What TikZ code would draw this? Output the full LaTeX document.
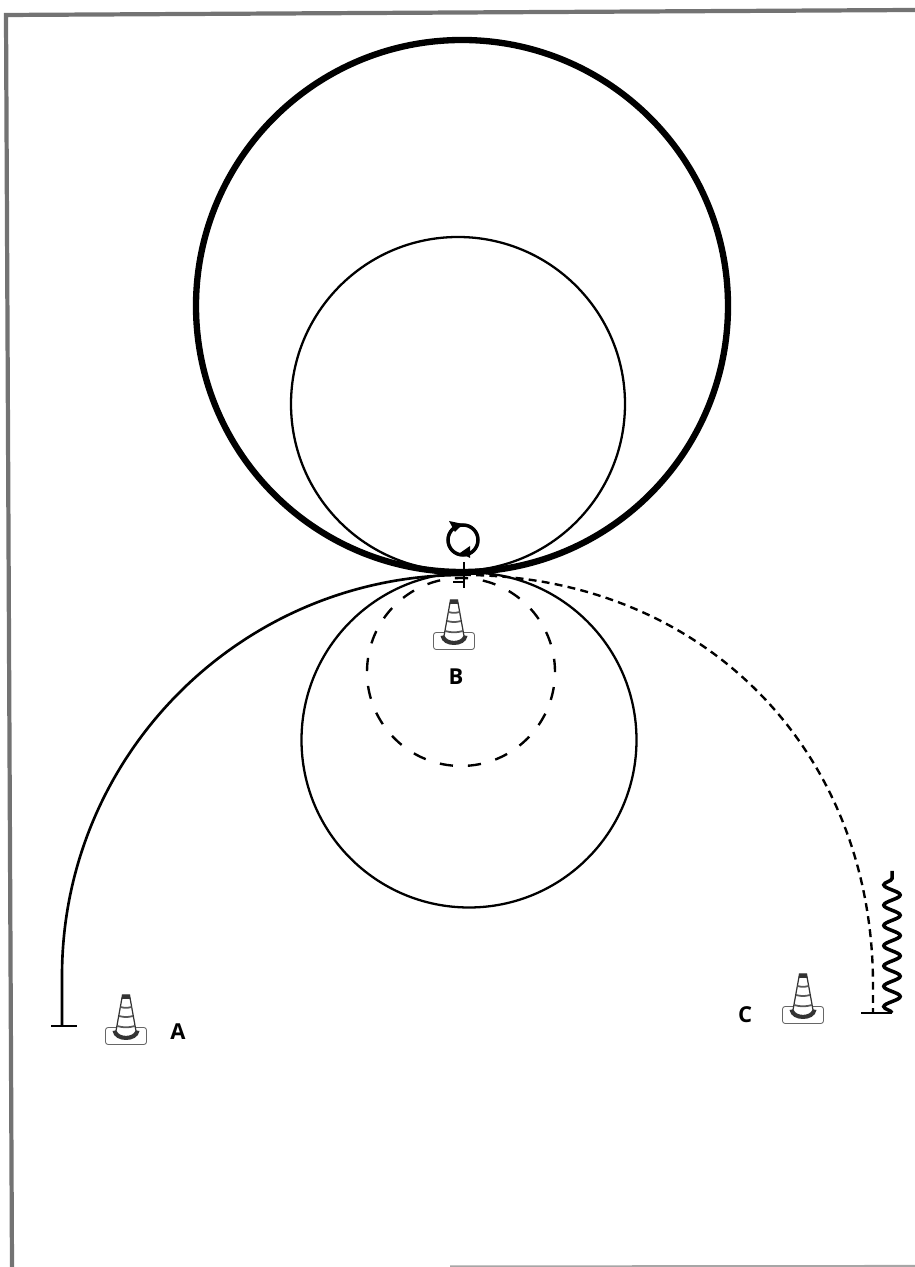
\documentclass[tikz,border=0pt]{standalone}
\usepackage{fontspec}
\setmainfont{Open Sans}
\usetikzlibrary{arrows.meta,decorations.pathmorphing}

\begin{document}
\begin{tikzpicture}[
  >=Latex,
  bigloop/.style={line width=3.6pt},
  loop/.style={line width=1.3pt},
  dashloop/.style={line width=1.35pt, dash pattern=on 7.5pt off 8.5pt},
  route/.style={line width=1.5pt},
  dashroute/.style={line width=1.35pt, dash pattern=on 4.5pt off 3pt},
  letter/.style={font=\bfseries\fontsize{12.5}{13}\selectfont, inner sep=0pt},
  sheet/.style={line width=2.4pt, black!55},
  cone/.pic={
    \draw[line width=0.5pt, black!60, rounded corners=1.5pt] (-0.41,-0.17) rectangle (0.41,0.17);
    \fill[black!80] (-0.27,0.1) to[out=-80,in=180] (0,-0.08) to[out=0,in=-100] (0.27,0.1) -- (0.16,0.12) -- (-0.16,0.12) -- cycle;
    \draw[line width=0.7pt, black!80, fill=white] (-0.2,0.1) -- (-0.07,0.82) -- (0.07,0.82) -- (0.2,0.1) to[out=-110,in=-70] cycle;
    \fill[black!80] (-0.07,0.82) -- (0.07,0.82) -- (0.085,0.74) -- (-0.085,0.74) -- cycle;
    \draw[line width=1pt, black!65] (-0.11,0.58) to[bend right=15] (0.11,0.58);
    \draw[line width=1pt, black!65] (-0.14,0.4) to[bend right=15] (0.14,0.4);
    \draw[line width=1pt, black!65] (-0.18,0.2) to[bend right=15] (0.18,0.2);
  }
]
\useasboundingbox (0,0) rectangle (18.3,25.34);

% sheet edge
\coordinate (cornerTL) at (0.12,25.04);
\coordinate (cornerTR) at (18.3,25.14);
\coordinate (cornerBL) at (0.24,0);
\coordinate (cornerBR) at (18.3,0.02);
\coordinate (cornerBM) at (9,0.01);
\draw[sheet] (cornerBL) -- (cornerTL) -- (cornerTR);
\draw[black!35, line width=1.2pt] (cornerBM) -- (cornerBR);

% loops
\coordinate (touch) at (9.26,13.84);
\draw[bigloop] (9.24,19.22) circle (5.32);
\draw[loop] (9.16,17.26) circle (3.34);
\draw[loop] (9.38,10.54) circle (3.35);
\draw[dashloop] (9.22,11.9) circle (1.88);

% spin mark
\coordinate (spin) at (9.26,14.54);
\draw[line width=2pt] (spin) circle (0.3);
\fill (8.98,14.92) -- (9.26,14.86) -- (9.1,14.7) -- cycle;
\fill (9.2,14.28) -- (9.4,14.42) -- (9.4,14.18) -- cycle;
\draw[line width=0.9pt] (9.28,14.1) -- (9.28,13.58);
\draw[line width=0.9pt] (9.06,13.7) -- (9.28,13.7);

% cones
\pic (coneA) at (2.52,4.62) {cone};
\pic (coneB) at (9.08,12.52) {cone};
\pic (coneC) at (16.06,5.04) {cone};
\node[letter] (labA) at (3.56,4.7) {A};
\node[letter] (labB) at (9.12,11.8) {B};
\node[letter] (labC) at (14.9,5.04) {C};

% routes
\coordinate (endA) at (1.24,4.82);
\coordinate (barAl) at (1.02,4.82);
\coordinate (barAr) at (1.54,4.82);
\coordinate (bendC) at (17.46,5.64);
\coordinate (endC) at (17.46,5.08);
\coordinate (barCl) at (17.22,5.08);
\coordinate (barCr) at (17.84,5.08);
\coordinate (coilEnd) at (17.84,7.92);
\draw[route] (touch) arc (90:180:8.02) -- (endA);
\draw[route] (barAl) -- (barAr);
\draw[dashroute] (touch) .. controls (14.01,13.84) and (17.46,10.39) .. (bendC) -- (endC);
\draw[route] (barCl) -- (barCr);
\draw[line width=2pt, decorate, decoration={snake, segment length=0.406cm, amplitude=0.165cm}]
  (barCr) -- (coilEnd);

\end{tikzpicture}
\end{document}
